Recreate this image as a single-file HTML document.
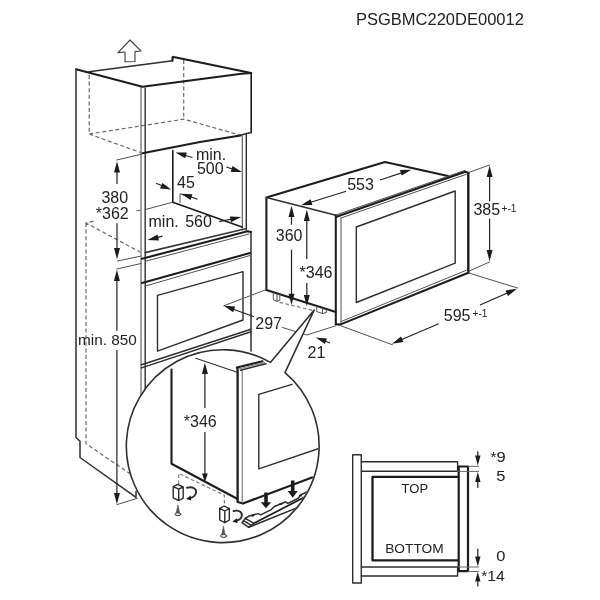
<!DOCTYPE html>
<html>
<head>
<meta charset="utf-8">
<title>Installation diagram</title>
<style>
html,body{margin:0;padding:0;background:#fff;}
body{width:600px;height:600px;overflow:hidden;font-family:"Liberation Sans",sans-serif;}
svg{display:block;will-change:transform;}
svg text{font-family:"Liberation Sans",sans-serif;fill:#222;}
.k{stroke:#1c1c1c;stroke-width:2.05;fill:none;stroke-linecap:round;stroke-linejoin:round;}
.m{stroke:#2e2e2e;stroke-width:1.4;fill:none;stroke-linecap:round;stroke-linejoin:round;}
.t{stroke:#505050;stroke-width:1;fill:none;stroke-linecap:round;stroke-linejoin:round;}
.d{stroke:#6a6a6a;stroke-width:1.2;fill:none;stroke-dasharray:4 2.6;}
.g{stroke:#7c7c7c;stroke-width:1.2;fill:none;stroke-dasharray:3.6 2.4;}
.a{stroke:#222;stroke-width:1.2;fill:none;}
.h{fill:#1c1c1c;stroke:none;}
.b{font-size:16px;}
.s{font-size:13px;}
.x{font-size:10.1px;}
</style>
</head>
<body>
<svg width="600" height="600" viewBox="0 0 600 600">
<rect x="0" y="0" width="600" height="600" fill="#fff"/>

<!-- title -->
<text x="356" y="24.7" style="font-size:16.5px">PSGBMC220DE00012</text>

<!-- ============ TALL CABINET ============ -->
<g id="cabinet">
<!-- up arrow -->
<path class="t" style="stroke:#444;stroke-width:1.15" d="M130 40 L141 51 L135 51.6 L135 61.5 L125 61.8 L125 52 L118 52.6 Z"/>

<!-- dashed hidden lines -->
<path class="d" d="M89.2 75 V134 M89.2 134 L183.7 119.2 L239 134.8 M89.2 134 L140.5 152.5 M183.7 60 V119.2"/>
<path class="d" d="M140.5 210 L135.5 211.2 M93.5 221.2 L86 223 L140 252 M86 223 V443.7 L133.7 476.2"/>

<!-- top face -->
<path class="m" d="M89 71.8 L172.5 60.8"/>
<path class="k" d="M172.5 60.8 V57.4 Q172.6 56.6 173.6 56.9 L251.2 73"/>
<path class="k" d="M76 69.2 L142.5 86.7 L241.5 73.7 L251.2 73"/>
<!-- left panel -->
<path class="m" style="stroke-width:1.5" d="M76 69.2 V437.5 L80 441.2 V457.5 L136 497.3 V491.5"/>
<!-- front stile double vertical -->
<path class="t" style="stroke-width:1.1" d="M141 87 V395"/>
<path class="m" style="stroke-width:1.4" d="M145.2 88 V392"/>
<!-- top box right & bottom -->
<path class="k" style="stroke-width:1.6" d="M251.2 73 V132.5"/><path class="m" d="M251.2 132.5 L240 135.3"/>
<path class="k" d="M142.5 153.2 L200 141.9 L240.5 135.6"/>
<!-- right stile -->
<path class="t" style="stroke-width:1.1" d="M242.3 134.5 V228.3"/>
<path class="m" d="M246.3 133.5 V230"/>

<!-- niche interior -->
<path class="k" style="stroke-width:1.6" d="M172.8 150.5 V202.5"/>
<path class="k" style="stroke-width:1.7" d="M172.8 202.3 L242 227"/>
<path class="t" d="M145.7 209.5 L173.2 202"/>
<path class="t" d="M180 202.5 V193.7 L185 195.5"/>
<!-- niche floor front edge -->
<path class="m" style="stroke-width:1.6;stroke:#3a3a3a" d="M145.2 252.6 L245.5 228.8"/>

<!-- lower carcass -->
<path class="k" d="M142 258.7 L247.5 231.3 L251 232"/>
<path class="t" d="M145.7 261.2 L249 234"/>
<path class="m" style="stroke-width:1.5" d="M251 232 V351"/>
<path class="k" d="M142 283 L250 253"/>
<path class="t" d="M145.7 286 L250 255.5"/>
<!-- oven glass -->
<path class="m" d="M157.5 295.4 L243 271.6 V320 L157.5 351.2 Z"/>
<!-- oven bottom -->
<path class="m" style="stroke-width:1.5" d="M141.5 364.8 L251 329.2"/>
<path class="m" style="stroke-width:1.5" d="M141.5 367.9 L251 331.8"/>
</g>

<!-- cabinet dimensions -->
<g id="cabdims">
<path class="t" d="M116.8 160 L141 154.3"/>
<path class="t" d="M117.5 261 L140.5 256.2"/>
<path class="t" d="M116.8 269 L141 263.5"/>
<path class="a" d="M117 166 V184 M117 223.3 V254"/>
<path class="h" d="M117 161.3 L120 172.5 L114 172.5 Z"/>
<path class="h" d="M117 259.3 L120 248.1 L114 248.1 Z"/>
<text class="b" x="101.4" y="202.9">380</text>
<text class="b" x="95.8" y="218.9">*362</text>

<path class="a" d="M116.9 274 V330.7 M116.9 350 V498"/>
<path class="h" d="M116.9 269.8 L119.9 281 L113.9 281 Z"/>
<path class="h" d="M116.9 504.3 L119.9 493.1 L113.9 493.1 Z"/>
<path class="t" d="M117 504.6 L137.3 498.3"/>
<text class="b" x="78" y="345.3" style="font-size:15.3px">min. 850</text>

<!-- min 500 -->
<text class="b" x="195.9" y="160">min.</text>
<text class="b" x="196.9" y="174.1">500</text>
<path class="a" d="M192.5 157.5 L180 154"/>
<path class="h" d="M175.5 152.5 L186.8 152.4 L185.2 158.2 Z"/>
<path class="a" d="M226.3 167 L237.5 170.6"/>
<path class="h" d="M242 172 L230.7 171.9 L232.5 166.1 Z"/>
<!-- 45 -->
<text class="b" x="177" y="187.9">45</text>
<path class="a" d="M156.2 183.2 L167 187.8"/>
<path class="h" d="M171.2 189.5 L160 188.6 L162.4 183 Z"/>
<path class="a" d="M197.5 199.2 L186 195.3"/>
<path class="h" d="M181 193.7 L192.5 194.3 L190.6 200 Z"/>
<!-- min 560 -->
<text class="b" x="148.5" y="226.6">min.</text><text class="b" x="185.2" y="226.6">560</text>
<path class="a" d="M162.5 236.2 L152 238.9"/>
<path class="h" d="M147.5 240 L157.6 234.6 L159 240.4 Z"/>
<path class="a" d="M219 221.7 L237 218"/>
<path class="h" d="M241.3 217 L231 222.2 L229.8 216.4 Z"/>
</g>

<!-- ============ MICROWAVE ============ -->
<g id="mw">
<path class="k" d="M266.4 290 V197.5 L385 162 L448 176"/>
<path class="m" style="stroke-width:1.5" d="M266.4 197.5 L335.8 215.3"/>
<path class="k" d="M266.4 290 L335.8 312"/>
<path class="k" d="M335.8 215.3 V324.2"/>
<path class="t" d="M341 217.8 V323.8"/>
<!-- door frame -->
<path class="t" d="M335.8 215 L465 170.4"/>
<path class="k" style="stroke-width:2.1" d="M336.5 216.7 L465.3 171.8 L468.4 173 M468.4 272.8 L340 324.6 L335.8 324.2"/><path class="k" style="stroke-width:2.4" d="M468.3 173 V272.8"/>
<path class="t" d="M341 218 L466 174.4 M466 270.4 L341 321.6"/>
<!-- glass -->
<path class="m" d="M356.3 227 L455.2 191 V263.2 L356.3 302.5 Z"/>
<!-- feet -->
<path class="t" d="M273.3 292.5 V299.8 L277 301.5 L279.8 300.3 V294.5 M277 301.5 V294"/>
<path class="t" d="M316.7 306.3 V311.5 L322.5 313.5 L326.3 312.5 V309.5 M322.5 313.5 V308.5"/>
<!-- grey dashed -->
<path class="g" d="M279.5 302.3 L314.2 310.8"/>
</g>

<g id="mwdims">
<!-- 553 -->
<text class="b" x="347.2" y="190.4">553</text>
<path class="a" d="M346.2 191.2 L306 203.7"/>
<path class="h" d="M301 205.2 L310.6 199.2 L312.4 204.9 Z"/>
<path class="a" d="M380 180 L407 171.1"/>
<path class="h" d="M411.3 169.7 L401.7 175.6 L399.9 169.9 Z"/>
<!-- 360 -->
<text class="b" x="275.8" y="240.8">360</text>
<path class="a" d="M291.5 209 V224.7 M291.5 249.7 V297"/>
<path class="h" d="M291.5 205.8 L294.5 217 L288.5 217 Z"/>
<path class="h" d="M291.5 305 L294.5 293.8 L288.5 293.8 Z"/>
<!-- *346 -->
<text class="b" x="299.6" y="277.6">*346</text>
<path class="a" d="M306.8 213 V259 M306.8 283 V300"/>
<path class="h" d="M306.8 209.7 L309.8 220.9 L303.8 220.9 Z"/>
<path class="h" d="M306.8 306.2 L309.8 295 L303.8 295 Z"/>
<!-- 385 -->
<text class="b" x="473.4" y="215.4">385</text>
<text class="x" x="501.6" y="212.2">+-1</text>
<path class="t" d="M468.7 172.5 L489.6 165"/>
<path class="t" d="M468.7 271.2 L489.6 262"/>
<path class="a" d="M489.6 170 V201.2 M489.6 218.7 V257"/>
<path class="h" d="M489.6 165.8 L492.6 177 L486.6 177 Z"/>
<path class="h" d="M489.6 261.2 L492.6 250 L486.6 250 Z"/>
<!-- 595 -->
<text class="b" x="443.8" y="321.3">595</text>
<text class="x" x="472.5" y="317">+-1</text>
<path class="t" d="M468.7 273 L517.5 288"/>
<path class="t" d="M340.8 325.8 L392.5 344.8"/>
<path class="a" d="M480 305 L513 290.5"/>
<path class="h" d="M517 288.7 L508 296 L505.5 290.5 Z"/>
<path class="a" d="M438.7 323.7 L396 342"/>
<path class="h" d="M392 343.7 L401 336.4 L403.5 341.9 Z"/>
<!-- 297 -->
<text class="b" x="255.3" y="329.3">297</text>
<path class="t" d="M266.4 289.5 L223.8 305.8"/>
<path class="a" d="M254 316.8 L228 307.3"/>
<path class="h" d="M223.8 305.8 L235.2 306.6 L233.1 312.2 Z"/>
<path class="t" d="M282.5 327.5 L306.7 335 L335.8 325.8"/>
<!-- 21 -->
<text class="b" x="307.5" y="357.6">21</text>
<path class="a" d="M330 343 L320.5 339.3"/>
<path class="h" d="M315.8 337.5 L327 338.5 L324.9 344.1 Z"/>
</g>

<!-- ============ CALLOUT CIRCLE ============ -->
<defs><clipPath id="cc"><circle cx="222.5" cy="446" r="96"/></clipPath></defs>
<g id="callout">
<path class="m" style="fill:#fff;stroke-width:1.6;stroke:#303030" d="M270.4 362.4 L314.2 310 L285 372.6 A96.4 96.4 0 1 1 270.4 362.4 Z"/>
<g clip-path="url(#cc)">
<!-- side panel -->
<path class="k" style="stroke-width:2.1" d="M171.5 369.5 V463.7 L237.6 499"/>
<path class="m" style="stroke-width:1.1" d="M195.8 358.3 L236.5 372"/>
<!-- door -->
<path class="k" style="stroke-width:2.3" d="M237.6 368.5 V502 L243 503.5 L312 477.5"/>
<path class="t" style="stroke:#666" d="M242.2 371 V503"/>
<path class="k" style="stroke-width:2.1" d="M236.8 367.6 L262.5 361.3"/>
<path class="t" style="stroke:#888;stroke-width:1.2" d="M238.6 369 L264.5 362.6"/><path class="m" d="M240.5 370.2 L266 363.8"/>
<!-- glass -->
<path class="m" d="M292 384.3 L258.8 394.3 V468.8 L319 448.5"/>
<!-- *346 -->
<text class="b" x="183.8" y="426.6">*346</text>
<path class="a" d="M204.9 367 V408 M204.9 432 V477"/>
<path class="h" d="M204.9 362.8 L207.9 374 L201.9 374 Z"/>
<path class="h" d="M204.9 482 L207.8 473.5 L202 473.5 Z"/>
<!-- grey dashed -->
<path class="g" d="M178.7 484 V473.4 L224.4 495.2 V505.5"/>
<!-- feet -->
<path class="a" style="stroke:#2a2a2a;stroke-width:1.4;stroke-linejoin:round" d="M173.2 486.7 L177.7 484.4 L183.2 487 L178.7 489.2 Z M173.2 486.7 V497.8 L178.7 500.5 V489.2 M178.7 500.5 L183.2 498.2 V487"/>
<path class="a" style="stroke:#2a2a2a;stroke-width:1.4;stroke-linejoin:round" d="M219.7 508.3 L224.2 506 L229.3 508.7 L224.8 511 Z M219.7 508.3 V520 L224.8 522.7 V511 M224.8 522.7 L229.3 520 V508.7"/>
<!-- rotation arrows -->
<path class="m" style="stroke-width:1.9" d="M187 487.7 C193 486.3 196.8 489 196 492.6 C195.3 495.8 192.5 497.6 189.5 498.2"/>
<path class="h" d="M186 498.9 L190.6 495.6 L191.3 500.6 Z"/>
<path class="m" style="stroke-width:1.9" d="M233.5 511 C239.5 509.6 242.6 512.5 241.7 516.2 C241 519 238.5 520.3 235.8 520.8"/>
<path class="h" d="M232.3 521.5 L236.9 518.2 L237.6 523.2 Z"/>
<!-- screws -->
<path style="fill:#555;stroke:#555;stroke-width:0.6;stroke-linejoin:round" d="M177.9 504.8 L176.2 513 H179.7 Z"/>
<ellipse class="t" style="stroke:#444;fill:#ddd" cx="177.9" cy="514.2" rx="3" ry="1.5"/>
<path style="fill:#555;stroke:#555;stroke-width:0.6;stroke-linejoin:round" d="M223.4 526.2 L221.7 534.5 H225.1 Z"/>
<ellipse class="t" style="stroke:#444;fill:#ddd" cx="223.6" cy="535.9" rx="3.1" ry="1.6"/>
<!-- bracket -->
<path class="m" style="stroke-width:1.5" d="M245.3 518.4 L249.3 516 L258 513.6 L260.7 514.9 L271.3 509.6 L274 506.7 L285.3 502 L288 503.3 L298.7 498 L300 495.3 L310 490.5"/>
<path class="k" style="stroke-width:1.7" d="M254 523.3 L310 494.3"/>
<path class="m" style="stroke-width:1.5" d="M245.3 518.4 L242 522.7 L248.7 527.3 L254 523.3 Z M243.6 520.6 L251.2 525.4"/>
<path class="m" style="stroke-width:1.5" d="M248.7 527.3 L300 506.6"/>
<ellipse class="h" cx="252.7" cy="515.7" rx="1.5" ry="0.9"/>
<ellipse class="h" cx="280.7" cy="504" rx="1.5" ry="0.9"/>
<ellipse class="h" cx="300.7" cy="495.7" rx="1.3" ry="0.9"/>
<!-- bold arrows -->
<path class="h" d="M264.2 492.5 H267.8 V502.2 H271.2 L266 508.3 L260.8 502.2 H264.2 Z"/>
<path class="h" d="M290.9 480.5 H294.5 V491 H297.8 L292.7 497.8 L287.7 491 H290.9 Z"/>
</g>
</g>

<!-- ============ SECTION (bottom right) ============ -->
<g id="section">
<rect class="m" x="352.7" y="454.8" width="8.6" height="128.2"/>
<path class="m" d="M361.3 461.7 H457.6 V471.2 H361.3"/>
<path class="m" d="M361.3 567 H457.6 V576 H361.3"/>
<path class="k" style="stroke-width:2.3" d="M457.6 476.8 H372.5 V560.3 H457.6"/>
<rect class="k" style="stroke-width:2.2" x="458.7" y="466.5" width="9.3" height="104.7"/>
<text class="s" x="401.6" y="492.6">TOP</text>
<text class="s" transform="translate(385.2 553.4) scale(1.055 1)">BOTTOM</text>
<!-- dims -->
<path class="t" style="stroke:#666" d="M468 466.3 H478.6 M457.6 471.4 H478.6 M457.6 567 H478.6 M468 571.5 H478.6"/>
<path class="a" d="M477.8 451.3 V461"/>
<path class="h" d="M477.8 465.5 L480.5 455.5 L475.1 455.5 Z"/>
<path class="a" d="M477.8 477 V488"/>
<path class="h" d="M477.8 472 L480.5 482 L475.1 482 Z"/>
<path class="a" d="M477.8 548.7 V561"/>
<path class="h" d="M477.8 566.6 L480.5 556.5 L475.1 556.5 Z"/>
<path class="a" d="M477.8 577 V586.5"/>
<path class="h" d="M477.8 572 L480.5 581.6 L475.1 581.6 Z"/>
<text class="b" transform="translate(490.2 461.6) scale(1.1 1)" style="font-size:15px">*9</text>
<text class="b" transform="translate(496.3 481.2) scale(1.1 1)" style="font-size:15px">5</text>
<text class="b" transform="translate(496.3 560.9) scale(1.1 1)" style="font-size:15px">0</text>
<text class="b" transform="translate(481.2 580.9) scale(1.05 1)" style="font-size:15px">*14</text>
</g>
</svg>
</body>
</html>
